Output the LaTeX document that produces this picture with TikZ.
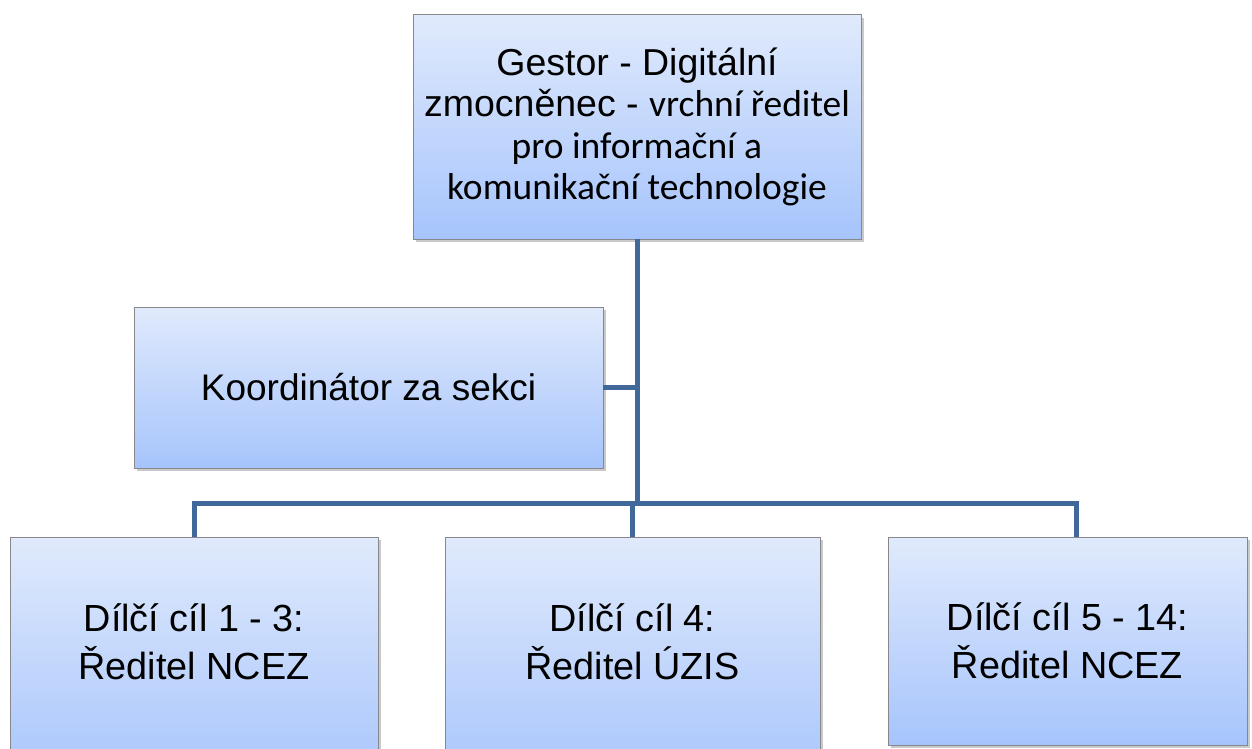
\documentclass[tikz,border=0pt]{standalone}
\usepackage{fontspec}
\setmainfont{Liberation Sans}
\newfontfamily\calib{Carlito}
\usetikzlibrary{shadows}
\definecolor{boxtop}{RGB}{224,234,252}
\definecolor{boxbot}{RGB}{166,196,252}
\definecolor{boxline}{RGB}{135,135,140}
\definecolor{conncol}{RGB}{64,104,154}
\tikzset{
  orgbox/.style={draw=boxline, line width=1pt, top color=boxtop, bottom color=boxbot,
    shading angle=0, outer sep=0pt, inner sep=0pt,
    drop shadow={shadow xshift=3pt, shadow yshift=-3pt, opacity=0.35, fill=black!60}},
  boxtext/.style={align=center, inner sep=0pt, font=\fontsize{37.8}{48}\selectfont},
  conn/.style={draw=conncol, line width=5pt, line join=miter}
}
\begin{document}
\begin{tikzpicture}[x=1pt,y=-1pt]
\useasboundingbox (0,0) rectangle (1252,749);
\fill[white] (0,0) rectangle (1252,749);
\clip (0,0) rectangle (1252,749);
% boxes
\node[orgbox, minimum width=448, minimum height=224, align=center,
  font=\fontsize{37.5}{41.5}\selectfont] (top) at (637,127)
  {Gestor - Digitální\\zmocněnec - {\calib vrchní ředitel}\\{\calib pro informační a}\\{\calib komunikační technologie}};
\node[orgbox, minimum width=469, minimum height=161, font=\fontsize{37}{44}\selectfont] (koord) at (368.5,387.5) {Koordinátor za sekci};
\node[orgbox, minimum width=368, minimum height=250] (lb) at (194,662) {};
\node[boxtext] (lbt) at (194,642) {Dílčí cíl 1 - 3:\\Ředitel NCEZ};
\node[orgbox, minimum width=375, minimum height=250] (mb) at (632.5,662) {};
\node[boxtext] (mbt) at (632.5,642) {Dílčí cíl 4:\\Ředitel ÚZIS};
\node[orgbox, minimum width=359, minimum height=208, boxtext] (rb) at (1067.5,641) {Dílčí cíl 5 - 14:\\Ředitel NCEZ};
% connectors
\coordinate (j) at (637,503);
\coordinate (bl) at (194,503);
\coordinate (br) at (1076,503);
\draw[conn] (top.south) -- (j);
\draw[conn] (koord.east) -- (koord.east -| top.south);
\draw[conn] (lb.north) -- (bl) -- (br) -- (br |- rb.north);
\draw[conn] (mb.north) -- (mb.north |- j);
\end{tikzpicture}
\end{document}
